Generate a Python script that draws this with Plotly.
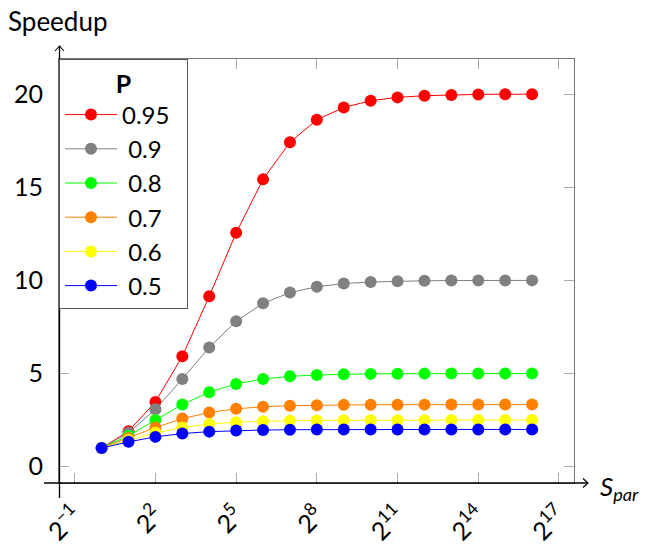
import plotly.graph_objects as go

# Data (S_par = 2^0 ... 2^16)
s_par = [1, 2, 4, 8, 16, 32, 64, 128, 256, 512, 1024, 2048, 4096, 8192, 16384, 32768, 65536]
p_labels = ["0.95", "0.9", "0.8", "0.7", "0.6", "0.5"]
speedup_095 = [1.0, 1.905, 3.478, 5.926, 9.143, 12.55, 15.42, 17.41, 18.62, 19.28, 19.64, 19.82, 19.91, 19.95, 19.98, 19.99, 19.99]
speedup_09 = [1.0, 1.818, 3.077, 4.706, 6.4, 7.805, 8.767, 9.343, 9.66, 9.828, 9.913, 9.956, 9.978, 9.989, 9.995, 9.997, 9.999]
speedup_08 = [1.0, 1.667, 2.5, 3.333, 4.0, 4.444, 4.706, 4.848, 4.923, 4.961, 4.981, 4.99, 4.995, 4.998, 4.999, 4.999, 5.0]
speedup_07 = [1.0, 1.538, 2.105, 2.581, 2.909, 3.107, 3.216, 3.274, 3.303, 3.318, 3.326, 3.33, 3.331, 3.333, 3.333, 3.333, 3.333]
speedup_06 = [1.0, 1.429, 1.818, 2.105, 2.286, 2.388, 2.443, 2.471, 2.485, 2.493, 2.496, 2.498, 2.499, 2.5, 2.5, 2.5, 2.5]
speedup_05 = [1.0, 1.333, 1.6, 1.778, 1.882, 1.939, 1.969, 1.984, 1.992, 1.996, 1.998, 1.999, 2.0, 2.0, 2.0, 2.0, 2.0]
x_tick_vals = [0.5, 4, 32, 256, 2048, 16384, 131072]
x_tick_text = ["2<sup>−1</sup>", "2<sup>2</sup>", "2<sup>5</sup>", "2<sup>8</sup>", "2<sup>11</sup>", "2<sup>14</sup>", "2<sup>17</sup>"]
y_tick_vals = [0, 5, 10, 15, 20]

series = [speedup_095, speedup_09, speedup_08, speedup_07, speedup_06, speedup_05]
colors = ["#ff0000", "#808080", "#00ff00", "#ff8000", "#ffff00", "#0000ff"]
names = ["0.95\u00a0\u00a0", "\u00a00.9", "\u00a00.8", "\u00a00.7", "\u00a00.6", "\u00a00.5"]

FONT = "Lato"
fig = go.Figure()
for ys, c, n in zip(series, colors, names):
    fig.add_trace(go.Scatter(
        x=s_par, y=ys, mode="lines+markers", name=n,
        line=dict(color=c, width=1),
        marker=dict(color=c, size=12),
    ))

W, H = 649, 545
L, R, T, B = 59, 75, 59, 62
pw, ph = W - L - R, H - T - B

def px(x):
    return (x - L) / pw

def py(y):
    return (H - B - y) / ph

fig.update_layout(
    width=W, height=H,
    margin=dict(l=L, r=R, t=T, b=B, autoexpand=False),
    paper_bgcolor="white", plot_bgcolor="white",
    font=dict(family=FONT, size=24, color="black"),
    showlegend=True,
    legend=dict(
        x=0, y=1, xanchor="left", yanchor="top",
        bgcolor="white", bordercolor="#555", borderwidth=1,
        title=dict(text="<b>P</b>", side="top center", font=dict(size=25)),
        font=dict(size=24),
        itemwidth=52,
    ),
    xaxis=dict(
        type="log",
        range=[-1.584 * 0.30103, 17.558 * 0.30103],
        tickvals=x_tick_vals, ticktext=x_tick_text,
        tickangle=-45,
        ticks="inside", ticklen=10, tickcolor="#aaa", tickwidth=1,
        showline=True, linecolor="#777", linewidth=1, mirror="ticks",
        showgrid=False, zeroline=False, automargin=False,
        tickfont=dict(size=25),
        ticklabelstandoff=7,
    ),
    yaxis=dict(
        range=[-0.875, 21.88],
        tickvals=y_tick_vals,
        ticks="inside", ticklen=10, tickcolor="#aaa", tickwidth=1,
        showline=True, linecolor="#777", linewidth=1, mirror="ticks",
        showgrid=False, zeroline=False, automargin=False,
        ticklabelstandoff=10,
        tickfont=dict(size=25),
    ),
)

# Axis lines with arrows (black)
ax_y = 483
ax_x = 59.5
shapes = [
    dict(type="line", xref="paper", yref="paper", x0=px(44), x1=px(588), y0=py(ax_y), y1=py(ax_y),
         line=dict(color="black", width=1.3)),
    dict(type="path", xref="paper", yref="paper",
         path=f"M {px(583)},{py(ax_y-4.5)} L {px(588)},{py(ax_y)} L {px(583)},{py(ax_y+4.5)}",
         line=dict(color="black", width=1.1)),
    dict(type="line", xref="paper", yref="paper", x0=px(ax_x), x1=px(ax_x), y0=py(498), y1=py(46),
         line=dict(color="black", width=1.3)),
    dict(type="path", xref="paper", yref="paper",
         path=f"M {px(ax_x-4.5)},{py(51)} L {px(ax_x)},{py(46)} L {px(ax_x+4.5)},{py(51)}",
         line=dict(color="black", width=1.1)),
]
fig.update_layout(shapes=shapes)

fig.add_annotation(text="Speedup", xref="paper", yref="paper", x=px(6), y=py(21),
                   xanchor="left", yanchor="middle", showarrow=False, font=dict(size=26))
fig.add_annotation(text="<i>S</i><sub><i>par</i></sub>", xref="paper", yref="paper", x=px(598), y=py(487),
                   xanchor="left", yanchor="middle", showarrow=False, font=dict(size=26))

fig.write_html("out.html", config={"displayModeBar": False},
               post_script="document.body.style.margin='0';document.body.style.padding='0';")
